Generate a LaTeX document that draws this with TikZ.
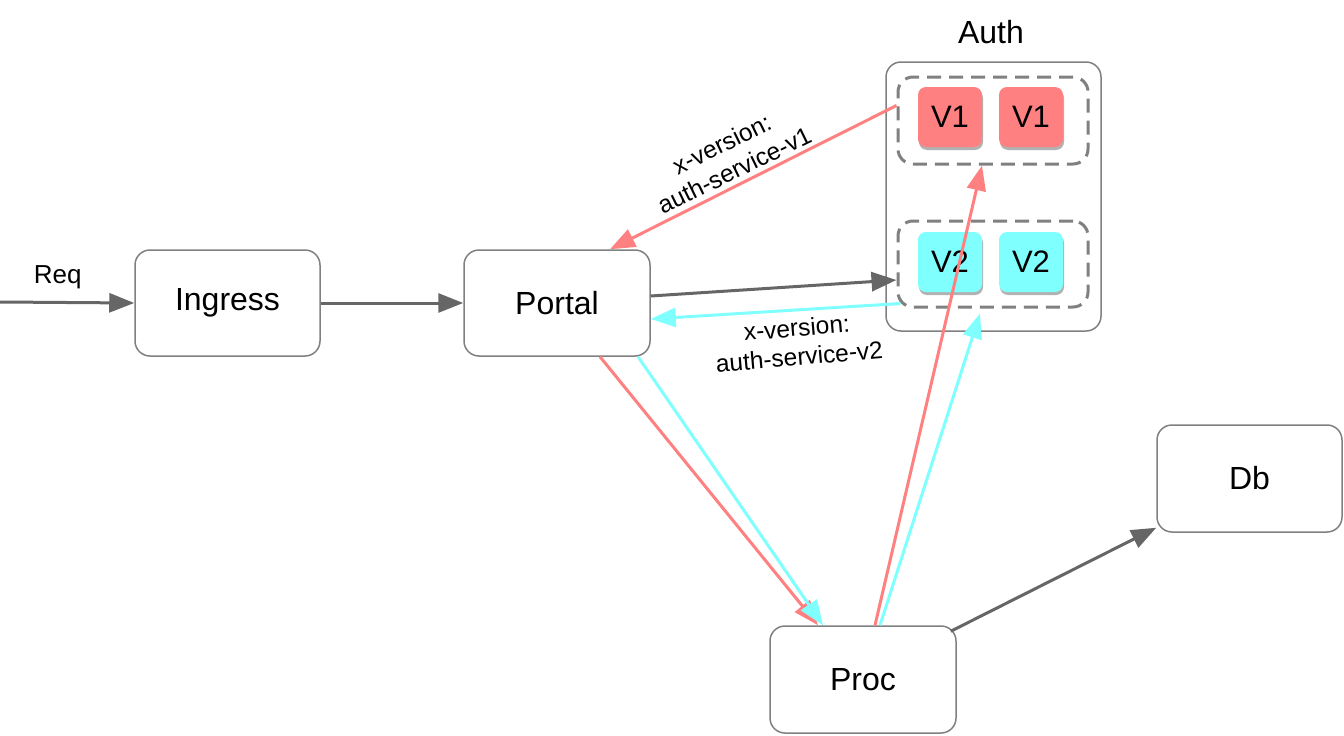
\documentclass[tikz,border=0pt]{standalone}
\usepackage{fontspec}
\setmainfont{Liberation Sans}
\usetikzlibrary{arrows.meta,shadows}
\definecolor{lgray}{HTML}{666666}
\definecolor{bgray}{HTML}{808080}
\definecolor{vred}{HTML}{FF8080}
\definecolor{vcyan}{HTML}{80FFFF}
\tikzset{
  box/.style={draw=bgray, line width=1.5pt, rounded corners=15pt, fill=white, inner sep=0pt, font=\fontsize{32}{36}\selectfont},
  grp/.style={draw=bgray, line width=3pt, dash pattern=on 14pt off 8pt, rounded corners=15pt, inner sep=0pt},
  vbox/.style={rounded corners=8pt, inner sep=0pt, minimum width=64pt, minimum height=60pt, font=\fontsize{31}{34}\selectfont, drop shadow={shadow xshift=1pt, shadow yshift=-3pt, opacity=0.3, fill=black}},
  garrow/.style={draw=lgray, line width=3pt, -{Triangle[length=25pt,width=19pt]}},
  rarrow/.style={draw=vred, line width=3pt, -{Triangle[length=25pt,width=19pt]}},
  carrow/.style={draw=vcyan, line width=3pt, -{Triangle[length=25pt,width=19pt]}},
  lbl/.style={font=\fontsize{24.5}{29}\selectfont, align=center, inner sep=0pt},
}
\begin{document}
\begin{tikzpicture}[x=1pt,y=-1pt]
\useasboundingbox (0,0) rectangle (1344,736);
% nodes
\node[box, minimum width=185pt, minimum height=106pt] (ingress) at (227.5,303) {Ingress};
\node[box, minimum width=186pt, minimum height=106pt] (portal) at (557,303) {Portal};
\node[box, minimum width=215pt, minimum height=269pt] (auth) at (993.5,196.5) {};
\node[font=\fontsize{32}{36}\selectfont, inner sep=0pt] (authlbl) at (991,32) {Auth};
\node[grp, minimum width=190pt, minimum height=87pt] (v1grp) at (993,120.5) {};
\node[grp, minimum width=190pt, minimum height=86pt] (v2grp) at (993,264) {};
\node[vbox, fill=vred] (v1a) at (950,117) {V1};
\node[vbox, fill=vred] (v1b) at (1031,117) {V1};
\node[vbox, fill=vcyan] (v2a) at (950,262) {V2};
\node[vbox, fill=vcyan] (v2b) at (1031,262) {V2};
\node[box, minimum width=185pt, minimum height=107pt] (db) at (1249.5,478.5) {Db};
\node[box, minimum width=186pt, minimum height=107pt] (proc) at (863,679.5) {Proc};
\coordinate (reqstart) at (0,302);
% connectors
\draw[garrow] (reqstart) -- (ingress.west) node[pos=0.43, above=12pt, font=\fontsize{26}{30}\selectfont, inner sep=0pt] (req) {Req};
\draw[garrow] (ingress.east) -- (portal.west);
\draw[garrow] ([yshift=7pt]portal.east) -- ([yshift=-16pt]v2grp.west);
\draw[carrow] ([xshift=4pt,yshift=5pt]v2grp.south west) -- ([yshift=-16pt]portal.east);
\draw[rarrow] ([yshift=15pt]v1grp.west) -- ([xshift=53pt]portal.north);
\draw[rarrow] ([xshift=43pt]portal.south) -- ([xshift=-45pt]proc.north);
\draw[carrow] ([xshift=81pt]portal.south) -- ([xshift=-40pt]proc.north);
\draw[rarrow] ([xshift=12pt]proc.north) -- ([xshift=-11pt]v1grp.south);
\draw[carrow] ([xshift=17pt]proc.north) -- ([xshift=-13pt,yshift=-5pt]v2grp.south);
\draw[garrow] ([xshift=-6pt,yshift=-6pt]proc.north east) -- ([yshift=5pt]db.south west);
% labels
\node[lbl, rotate=26] (l1) at (728,157) {x-version:\\auth-service-v1};
\node[lbl, rotate=5] (l2) at (798,342) {x-version:\\auth-service-v2};
\end{tikzpicture}
\end{document}
